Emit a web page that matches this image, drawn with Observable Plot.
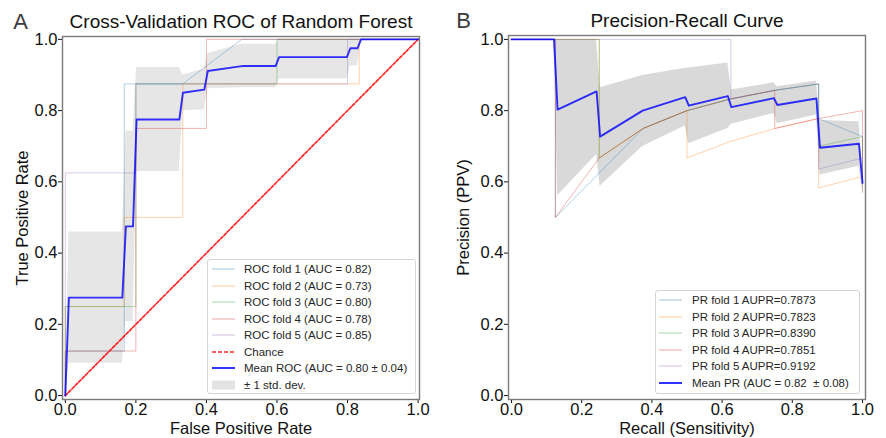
<!DOCTYPE html>
<html><head><meta charset="utf-8">
<script src="https://cdn.jsdelivr.net/npm/d3@7"></script>
<script src="https://cdn.jsdelivr.net/npm/@observablehq/plot@0.6"></script>
<style>
body{margin:0;background:#fff;}
#wrap{position:relative;width:886px;height:438px;font-family:"Liberation Sans",Arial,sans-serif;overflow:hidden;}
.panel{position:absolute;top:0;}
.legend{position:absolute;border:1px solid #d4d4d4;border-radius:3px;background:rgba(255,255,255,0.85);box-sizing:border-box;}
.row{position:absolute;left:0;height:16px;width:100%;}
.row svg{position:absolute;top:0;}
.row span{position:absolute;top:0;line-height:16px;font-size:11.5px;color:#262626;white-space:pre;}
</style></head><body><div id="wrap"></div>
<script>
// ---------- Data ----------
const tickValues = [0, 0.2, 0.4, 0.6, 0.8, 1.0];
const foldNames = ["1", "2", "3", "4", "5"];
const foldColors = ["#1f77b4", "#ff7f0e", "#2ca02c", "#d62728", "#9467bd"];

// ROC folds
const rocFoldFPR = [
  [0, 0, 0.167, 0.167, 0.333, 0.5, 1],
  [0, 0, 0.167, 0.167, 0.333, 0.333, 0.833, 0.833, 1],
  [0, 0, 0.2, 0.2, 0.6, 0.6, 1],
  [0, 0, 0.2, 0.2, 0.4, 0.4, 1],
  [0, 0, 0.2, 0.2, 0.8, 0.8, 1]
];
const rocFoldTPR = [
  [0, 0.125, 0.125, 0.875, 0.875, 1, 1],
  [0, 0.25, 0.25, 0.5, 0.5, 0.875, 0.875, 1, 1],
  [0, 0.25, 0.25, 0.875, 0.875, 1, 1],
  [0, 0.125, 0.125, 0.75, 0.75, 1, 1],
  [0, 0.625, 0.625, 0.875, 0.875, 1, 1]
];
const rocAUC = ["0.82", "0.73", "0.80", "0.78", "0.85"];

// Mean ROC and ±1 std band
const rocMeanFPR = [0, 0.0101, 0.1616, 0.1717, 0.1919, 0.2020, 0.3232, 0.3333, 0.3939, 0.4040, 0.4949, 0.5051, 0.5960, 0.6061, 0.7980, 0.8081, 0.8283, 0.8384, 1];
const rocMeanTPR = [0, 0.275, 0.275, 0.475, 0.475, 0.775, 0.775, 0.85, 0.859, 0.911, 0.924, 0.925, 0.925, 0.95, 0.95, 0.975, 0.975, 1, 1];
const rocLower   = [0, 0.091, 0.091, 0.208, 0.208, 0.629, 0.629, 0.80, 0.802, 0.861, 0.864, 0.864, 0.864, 0.889, 0.889, 0.925, 0.925, 1, 1];
const rocUpper   = [0, 0.459, 0.459, 0.742, 0.742, 0.921, 0.921, 0.90, 0.916, 0.960, 0.985, 0.986, 0.986, 1, 1, 1, 1, 1, 1];
const chanceX = [0, 1];
const chanceY = [0, 1];

// PR folds
const prFoldRecall = [
  [0, 0.125, 0.125, 0.25, 0.375, 0.5, 0.625, 0.75, 0.875, 0.875, 1, 1],
  [0, 0.25, 0.25, 0.375, 0.5, 0.5, 0.625, 0.75, 0.875, 0.875, 1, 1],
  [0, 0.25, 0.25, 0.375, 0.5, 0.625, 0.75, 0.875, 0.875, 1, 1],
  [0, 0.125, 0.125, 0.25, 0.375, 0.5, 0.625, 0.75, 0.75, 0.875, 1, 1],
  [0, 0.625, 0.625, 0.75, 0.875, 0.875, 1, 1]
];
const prFoldPrecision = [
  [1, 1, 0.5, 0.625, 0.75, 0.8, 0.833, 0.857, 0.875, 0.778, 0.727, 0.571],
  [1, 1, 0.667, 0.75, 0.8, 0.667, 0.714, 0.75, 0.778, 0.583, 0.615, 0.571],
  [1, 1, 0.667, 0.75, 0.8, 0.833, 0.857, 0.875, 0.7, 0.727, 0.615],
  [1, 1, 0.5, 0.667, 0.75, 0.8, 0.833, 0.857, 0.75, 0.778, 0.8, 0.615],
  [1, 1, 0.833, 0.857, 0.875, 0.636, 0.667, 0.615]
];
const prAUPR = ["0.7873", "0.7823", "0.8390", "0.7851", "0.9192"];

// Mean PR and ±1 std band
const prMeanRecall = [0, 0.1212, 0.1313, 0.2424, 0.2525, 0.3737, 0.4949, 0.5051, 0.6162, 0.6263, 0.7475, 0.7576, 0.8687, 0.8788, 0.9899, 1.0];
const prMeanPrecision = [1, 1, 0.803, 0.854, 0.727, 0.80, 0.838, 0.814, 0.841, 0.81, 0.835, 0.816, 0.834, 0.696, 0.707, 0.597];
const prLower = [1, 1, 0.561, 0.677, 0.588, 0.699, 0.757, 0.707, 0.75, 0.762, 0.792, 0.763, 0.788, 0.619, 0.644, 0.576];
const prUpper = [1, 1, 1, 1, 0.864, 0.899, 0.919, 0.92, 0.934, 0.858, 0.878, 0.867, 0.883, 0.772, 0.769, 0.618];

// ---------- Build ----------
const FONT = '"Liberation Sans", Arial, sans-serif';
const foldRows = (xs, ys) => xs.flatMap((xa, i) => xa.map((x, j) => ({fold: foldNames[i], x, y: ys[i][j]})));
const meanRows = (xs, ys, lo, hi) => xs.map((x, i) => ({x, y: ys[i], lo: lo[i], hi: hi[i]}));

function panel(o) {
  const txt = {text: d => d, textAnchor: "middle", lineAnchor: "middle", fill: "#111"};
  return Plot.plot({
    width: 443, height: 438,
    marginLeft: o.ml, marginRight: o.mr, marginTop: o.mt, marginBottom: 39,
    x: {domain: o.xd},
    y: {domain: o.yd},
    color: {type: "ordinal", domain: foldNames, range: foldColors},
    style: {fontFamily: FONT, fontSize: "16.5px", color: "#111", background: "transparent", overflow: "visible"},
    marks: [
      Plot.areaY(o.mean, {x: "x", y1: "lo", y2: "hi", fill: "#808080", fillOpacity: o.bandOpacity, curve: "linear"}),
      Plot.line(o.folds, {x: "x", y: "y", z: "fold", stroke: "fold", strokeOpacity: 0.35, strokeWidth: 1, curve: "linear"}),
      ...(o.extra || []),
      Plot.line(o.mean, {x: "x", y: "y", stroke: "#0000ff", strokeOpacity: 0.8, strokeWidth: 1.9, curve: "linear"}),
      Plot.axisX({ticks: tickValues, tickFormat: d3.format(".1f"), tickSize: 4, tickPadding: 0, fontSize: 16.5, label: null}),
      Plot.axisY({ticks: tickValues, tickFormat: d3.format(".1f"), tickSize: 4, tickPadding: 1, fontSize: 16.5, label: null}),
      Plot.frame({stroke: "#7a7a7a", strokeWidth: 1.4}),
      Plot.text([o.title], {...txt, frameAnchor: "top", dy: -15, fontSize: 19}),
      Plot.text([o.letter], {...txt, frameAnchor: "top-left", dx: o.letterDx, dy: -15, fontSize: 22, fill: "#3c3c3c"}),
      Plot.text([o.xlabel], {...txt, frameAnchor: "bottom", dy: 29.5, fontSize: 16.5}),
      Plot.text([o.ylabel], {...txt, frameAnchor: "left", rotate: -90, dx: o.ylabDx, fontSize: 16.5})
    ]
  });
}

const chanceRows = chanceX.map((x, i) => ({x, y: chanceY[i]}));

const plotA = panel({
  ml: 62, mr: 24, mt: 36,
  xd: [-0.008, 1.004], yd: [-0.011, 1.008],
  folds: foldRows(rocFoldFPR, rocFoldTPR),
  mean: meanRows(rocMeanFPR, rocMeanTPR, rocLower, rocUpper),
  bandOpacity: 0.2,
  extra: [Plot.line(chanceRows, {x: "x", y: "y", stroke: "#ff0000", strokeOpacity: 0.85, strokeWidth: 1.7, strokeDasharray: "3,1.8"})],
  title: "Cross-Validation ROC of Random Forest",
  letter: "A", letterDx: -42,
  xlabel: "False Positive Rate", ylabel: "True Positive Rate", ylabDx: -40
});

const plotB = panel({
  ml: 65, mr: 21, mt: 35,
  xd: [-0.0085, 1.0085], yd: [-0.011, 1.011],
  folds: foldRows(prFoldRecall, prFoldPrecision),
  mean: meanRows(prMeanRecall, prMeanPrecision, prLower, prUpper),
  bandOpacity: 0.3,
  title: "Precision-Recall Curve",
  letter: "B", letterDx: -45,
  xlabel: "Recall (Sensitivity)", ylabel: "Precision (PPV)", ylabDx: -45
});

const wrap = document.getElementById("wrap");
plotA.classList.add("panel"); plotA.style.left = "0px";
plotB.classList.add("panel"); plotB.style.left = "443px";
wrap.appendChild(plotA);
wrap.appendChild(plotB);

// ---------- Legends ----------
function sample(kind, color) {
  const ns = "http://www.w3.org/2000/svg";
  const s = document.createElementNS(ns, "svg");
  s.setAttribute("width", 26); s.setAttribute("height", 16);
  if (kind === "patch") {
    const r = document.createElementNS(ns, "rect");
    r.setAttribute("x", 1); r.setAttribute("y", 3.5); r.setAttribute("width", 23); r.setAttribute("height", 9);
    r.setAttribute("fill", "#808080"); r.setAttribute("fill-opacity", 0.22);
    s.appendChild(r);
  } else {
    const l = document.createElementNS(ns, "line");
    l.setAttribute("x1", 1); l.setAttribute("x2", 24); l.setAttribute("y1", 8); l.setAttribute("y2", 8);
    l.setAttribute("stroke", color);
    if (kind === "fold") { l.setAttribute("stroke-opacity", 0.35); l.setAttribute("stroke-width", 1.2); }
    if (kind === "chance") { l.setAttribute("stroke-opacity", 0.85); l.setAttribute("stroke-width", 1.7); l.setAttribute("stroke-dasharray", "4,2"); }
    if (kind === "mean") { l.setAttribute("stroke-opacity", 0.8); l.setAttribute("stroke-width", 2); }
    s.appendChild(l);
  }
  return s;
}
function legend(box, entries) {
  const d = document.createElement("div");
  d.className = "legend";
  Object.assign(d.style, {left: box.left + "px", top: box.top + "px", width: box.w + "px", height: box.h + "px"});
  entries.forEach((e, i) => {
    const r = document.createElement("div");
    r.className = "row";
    r.style.top = (box.first + i * box.step - 8) + "px";
    const s = sample(e.kind, e.color);
    s.style.left = (box.sx - 1) + "px";
    const t = document.createElement("span");
    t.textContent = e.label;
    t.style.left = box.tx + "px";
    r.appendChild(s); r.appendChild(t);
    d.appendChild(r);
  });
  wrap.appendChild(d);
}

legend({left: 207, top: 259, w: 209, h: 135, first: 9, step: 16.5, sx: 4, tx: 36}, [
  ...foldNames.map((f, i) => ({kind: "fold", color: foldColors[i], label: `ROC fold ${f} (AUC = ${rocAUC[i]})`})),
  {kind: "chance", color: "#ff0000", label: "Chance"},
  {kind: "mean", color: "#0000ff", label: "Mean ROC (AUC = 0.80 \u00b1 0.04)"},
  {kind: "patch", label: "\u00b1 1 std. dev."}
]);

legend({left: 655, top: 290, w: 205, h: 104, first: 9, step: 16.6, sx: 3, tx: 36}, [
  ...foldNames.map((f, i) => ({kind: "fold", color: foldColors[i], label: `PR fold ${f} AUPR=${prAUPR[i]}`})),
  {kind: "mean", color: "#0000ff", label: "Mean PR (AUC = 0.82  \u00b1 0.08)"}
]);
</script></body></html>
